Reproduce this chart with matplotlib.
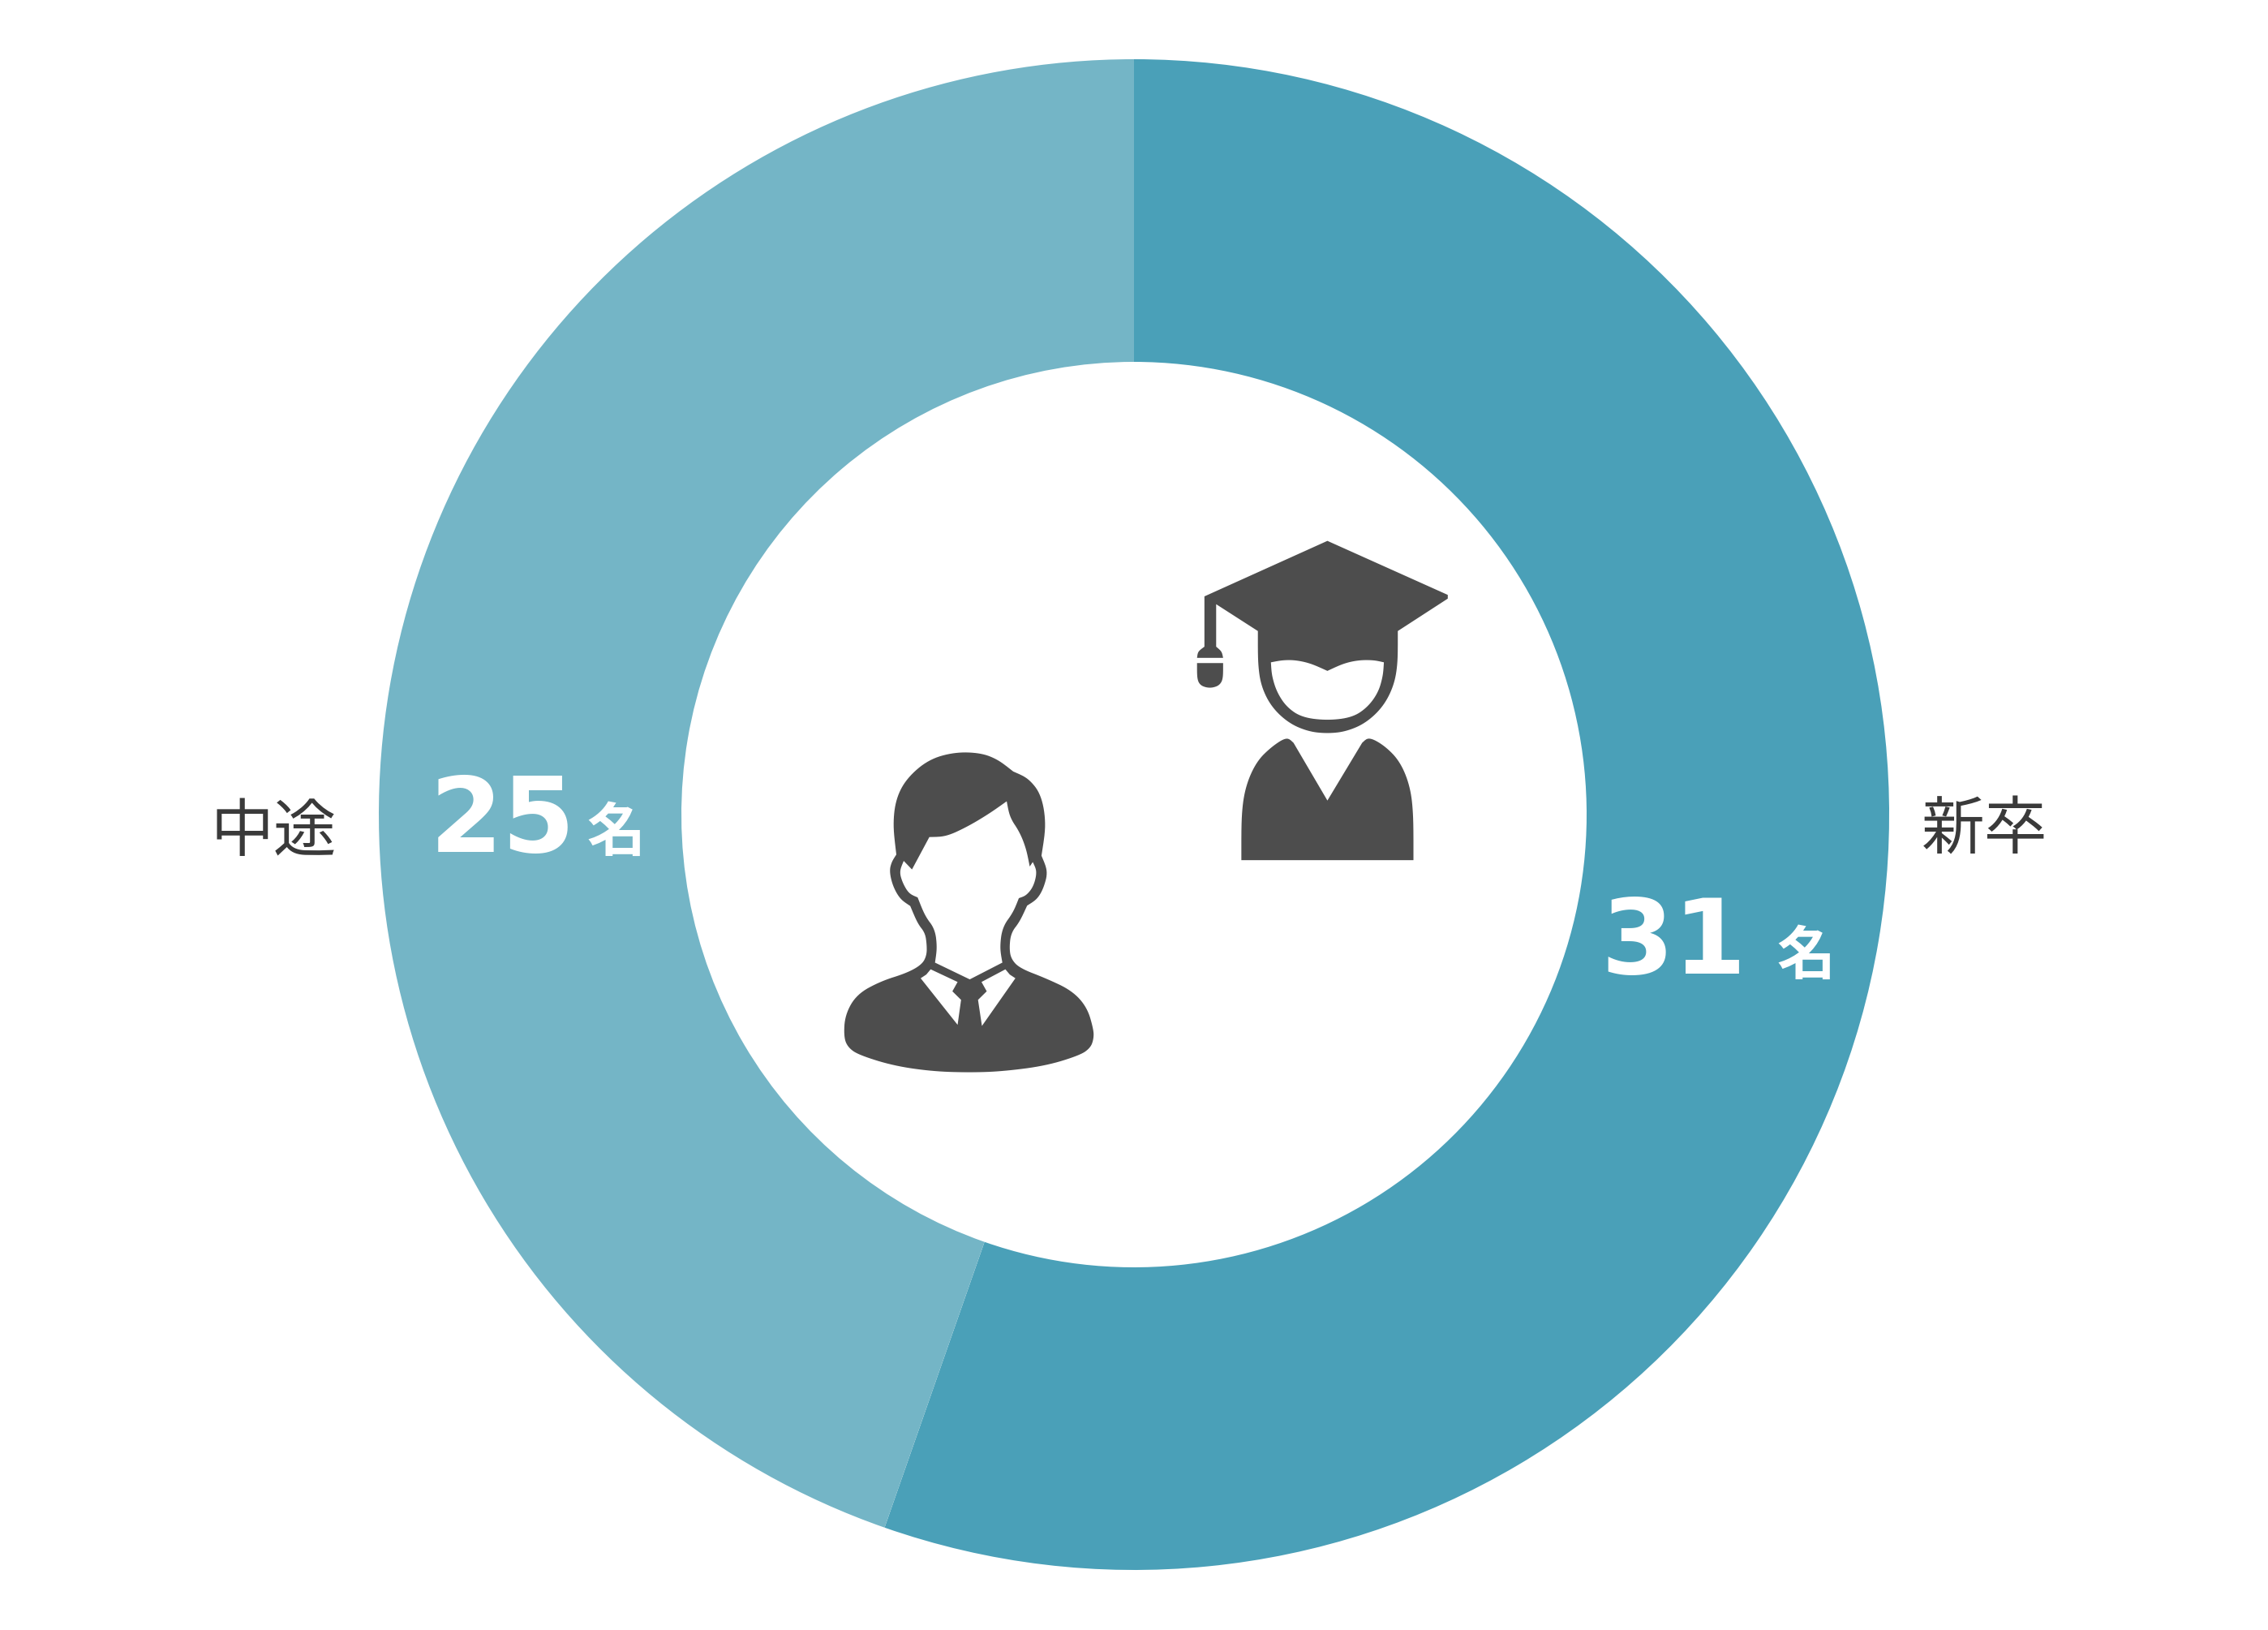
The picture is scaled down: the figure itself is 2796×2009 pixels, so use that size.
import matplotlib
matplotlib.use('Agg')
import matplotlib.pyplot as plt
from matplotlib.patches import Polygon
import numpy as np

W, H = 2796, 2009
JP = ['Noto Sans CJK JP', 'DejaVu Sans']

categories = ['新卒', '中途']
counts = [31, 25]
colors = ['#4AA0B8', '#74B5C6']
unit = '名'
dark = '#4D4D4D'
text_dark = '#3A3A3A'

hat = [(905,207),(1188,58),(1465,203),(1465,213),(1350,300),(1350,390),(1340,450),(1315,505),(1275,548),
       (1230,570),(1188,575),(1145,570),(1100,548),(1060,505),(1036,450),(1028,390),(1028,300),(932,228),
       (932,342),(945,355),(948,372),(888,372),(890,355),(905,342)]
hat_corners = [0, 1, 2, 3, 4, 16, 17, 18, 20, 21, 23]
tassel = [(888,386),(948,386),(948,428),(940,445),(925,452),(910,452),(895,445),(888,428)]
tassel_corners = [0, 1]
grad_face = [(1058,384),(1085,378),(1115,378),(1150,387),(1188,407),(1225,387),(1260,378),(1295,378),(1318,384),
             (1316,420),(1305,465),(1280,505),(1245,532),(1188,540),(1130,532),(1095,505),(1072,465),(1060,420)]
grad_face_corners = [0, 4, 8]
gown = [(990,915),(990,790),(1000,715),(1025,650),(1060,610),(1095,584),(1110,600),(1188,755),(1268,600),
        (1283,584),(1320,608),(1355,650),(1378,715),(1386,790),(1386,915)]
gown_corners = [0, 6, 7, 8, 14]
body = [(75,1390),(78,1330),(105,1275),(160,1240),(220,1218),(255,1195),(266,1170),(266,1140),(262,1110),(245,1085),
        (228,1038),(205,1020),(188,985),(180,945),(185,920),(196,900),(188,820),(195,750),(220,695),(270,645),
        (330,625),(390,627),(430,645),(465,677),(500,695),(530,740),(541,820),(530,903),(545,945),(535,990),
        (520,1020),(497,1037),(480,1080),(460,1110),(456,1150),(460,1180),(480,1205),(540,1232),(600,1265),
        (635,1310),(650,1370),(650,1395),(643,1418),(620,1438),(540,1467),(440,1482),(365,1485),(280,1482),(190,1467),
        (110,1438),(85,1418)]
body_corners = [10, 15, 23, 27, 31]
man_face = [(272,853),(310,852),(360,825),(410,790),(450,757),(457,800),(480,840),(495,885),(503,932),(510,920),
            (520,945),(512,985),(495,1010),(478,1017),(465,1055),(440,1095),(434,1150),(440,1190),(365,1235),
            (285,1190),(290,1150),(285,1100),(262,1065),(245,1015),(225,1005),(210,975),(203,945),(213,917),(232,940)]
man_face_corners = [0, 4, 8, 9, 13, 17, 18, 19, 23, 27, 28]
collar_l = [(275,1208),(337,1242),(325,1267),(345,1290),(337,1357),(252,1232),(265,1222)]
collar_r = [(447,1208),(392,1242),(404,1267),(384,1290),(393,1360),(470,1232),(457,1222)]


def smooth(points, corners, rounds=3):
    # corner cutting, keeps the points flagged as corners sharp
    pts = [(np.array(p, dtype=float), i in corners) for i, p in enumerate(points)]
    for _ in range(rounds):
        out = []
        n = len(pts)
        for i, (p, is_corner) in enumerate(pts):
            if is_corner:
                out.append((p, True))
            else:
                out.append((0.75 * p + 0.25 * pts[i - 1][0], False))
                out.append((0.75 * p + 0.25 * pts[(i + 1) % n][0], False))
        pts = out
    return np.array([p for p, _ in pts])


def to_px(pts):
    # crop was 840x720 starting at (1000, 640)
    return np.column_stack([1000 + pts[:, 0] * 840 / 1568, H - (640 + pts[:, 1] * 720 / 1568)])


def put(ax, x, y, s, size, color, family=JP, weight='normal'):
    ax.text(x, H - y, s, fontsize=size, color=color, family=family, fontweight=weight, ha='center', va='center')


fig = plt.figure(figsize=(W / 100, H / 100), dpi=100, facecolor='white')
ax = fig.add_axes([0, 0, 1, 1])

ax.pie(counts, colors=colors, startangle=90, counterclock=False, center=(1398, H - 1004), radius=931,
       wedgeprops={'width': 373, 'linewidth': 0})
ax.set_xlim(0, W)
ax.set_ylim(0, H)
ax.set_aspect('equal')
ax.axis('off')

shapes = [(hat, hat_corners, dark), (tassel, tassel_corners, dark), (grad_face, grad_face_corners, 'white'),
          (gown, gown_corners, dark), (body, body_corners, dark), (man_face, man_face_corners, 'white'),
          (collar_l, range(7), 'white'), (collar_r, range(7), 'white')]
for shape, corners, col in shapes:
    ax.add_patch(Polygon(to_px(smooth(shape, set(corners))), closed=True, facecolor=col, edgecolor='none', zorder=3))

put(ax, 337, 1027, categories[1], 56, text_dark)
put(ax, 2447, 1025, categories[0], 56, text_dark)
put(ax, 620, 1015, str(counts[1]), 93, 'white', 'DejaVu Sans', 'bold')
put(ax, 2063, 1165, str(counts[0]), 93, 'white', 'DejaVu Sans', 'bold')
put(ax, 760, 1028, unit, 52, 'white', weight='bold')
put(ax, 2227, 1180, unit, 52, 'white', weight='bold')

fig.savefig('out.png', dpi=100, facecolor='white')
